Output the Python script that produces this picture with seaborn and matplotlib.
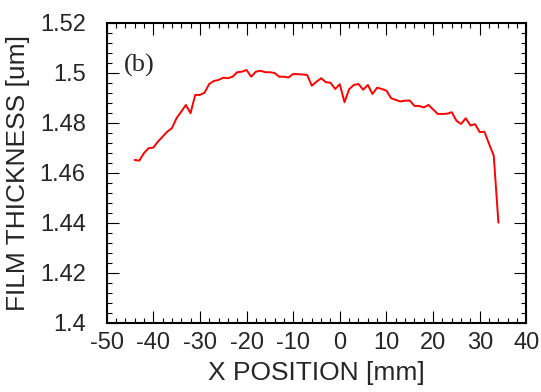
import matplotlib
matplotlib.use("Agg")
import matplotlib.pyplot as plt
import seaborn as sns
import pandas as pd
from matplotlib.ticker import MultipleLocator, FormatStrFormatter

# Film thickness profile, one point per mm along X.
x_position = list(range(-44, 35))
film_thickness = [
    1.4651, 1.4648, 1.4678, 1.4698, 1.4700, 1.4724, 1.4744, 1.4764, 1.4778, 1.4818,
    1.4844, 1.4871, 1.4838, 1.4911, 1.4911, 1.4920, 1.4955, 1.4967, 1.4971, 1.4980,
    1.4978, 1.4984, 1.5002, 1.5004, 1.5011, 1.4984, 1.5004, 1.5008, 1.5002, 1.5002,
    1.4999, 1.4984, 1.4984, 1.4981, 1.4995, 1.4994, 1.4993, 1.4991, 1.4948, 1.4964,
    1.4978, 1.4962, 1.4960, 1.4935, 1.4954, 1.4882, 1.4934, 1.4951, 1.4955, 1.4932,
    1.4951, 1.4915, 1.4940, 1.4935, 1.4928, 1.4898, 1.4891, 1.4885, 1.4888, 1.4889,
    1.4867, 1.4867, 1.4861, 1.4871, 1.4853, 1.4835, 1.4835, 1.4836, 1.4842, 1.4808,
    1.4795, 1.4818, 1.4789, 1.4794, 1.4762, 1.4764, 1.4715, 1.4668, 1.4400,
]
panel_label = "(b)"

if __name__ == "__main__":
    sns.set_style("ticks")
    plt.rcParams["font.family"] = ["Liberation Sans", "DejaVu Sans"]
    plt.rcParams["axes.unicode_minus"] = False

    df = pd.DataFrame({"x": x_position, "thickness": film_thickness})

    fig = plt.figure(figsize=(5.41, 3.92), dpi=100)
    ax = fig.add_axes((0.197, 0.177, 0.776, 0.765))

    sns.lineplot(data=df, x="x", y="thickness", color="#ff0000", linewidth=1.4, ax=ax)

    ax.set_xlim(-50, 40)
    ax.set_ylim(1.4, 1.52)
    ax.xaxis.set_major_locator(MultipleLocator(10))
    ax.xaxis.set_minor_locator(MultipleLocator(2))
    ax.yaxis.set_major_locator(MultipleLocator(0.02))
    ax.yaxis.set_minor_locator(MultipleLocator(0.004))
    ax.yaxis.set_major_formatter(FormatStrFormatter("%g"))
    ax.xaxis.set_major_formatter(FormatStrFormatter("%g"))

    ax.tick_params(which="both", direction="in", top=True, right=True, color="black")
    ax.tick_params(which="major", length=8.5, width=0.8, labelsize=17)
    ax.tick_params(which="minor", length=3.6, width=0.8)
    ax.tick_params(axis="x", which="major", pad=7)
    ax.tick_params(axis="y", which="major", pad=15)
    for sp in ax.spines.values():
        sp.set_linewidth(1.5)
        sp.set_color("black")

    ax.set_xlabel("X POSITION [mm]", fontsize=19)
    ax.set_ylabel("FILM THICKNESS [um]", fontsize=19)
    ax.xaxis.set_label_coords(0.5, -0.128)
    ax.yaxis.set_label_coords(-0.182, 0.5)

    ax.text(-46.3, 1.5031, panel_label, fontsize=19, family="Liberation Serif",
            ha="left", va="center")

    fig.savefig("out.png", dpi=100)
